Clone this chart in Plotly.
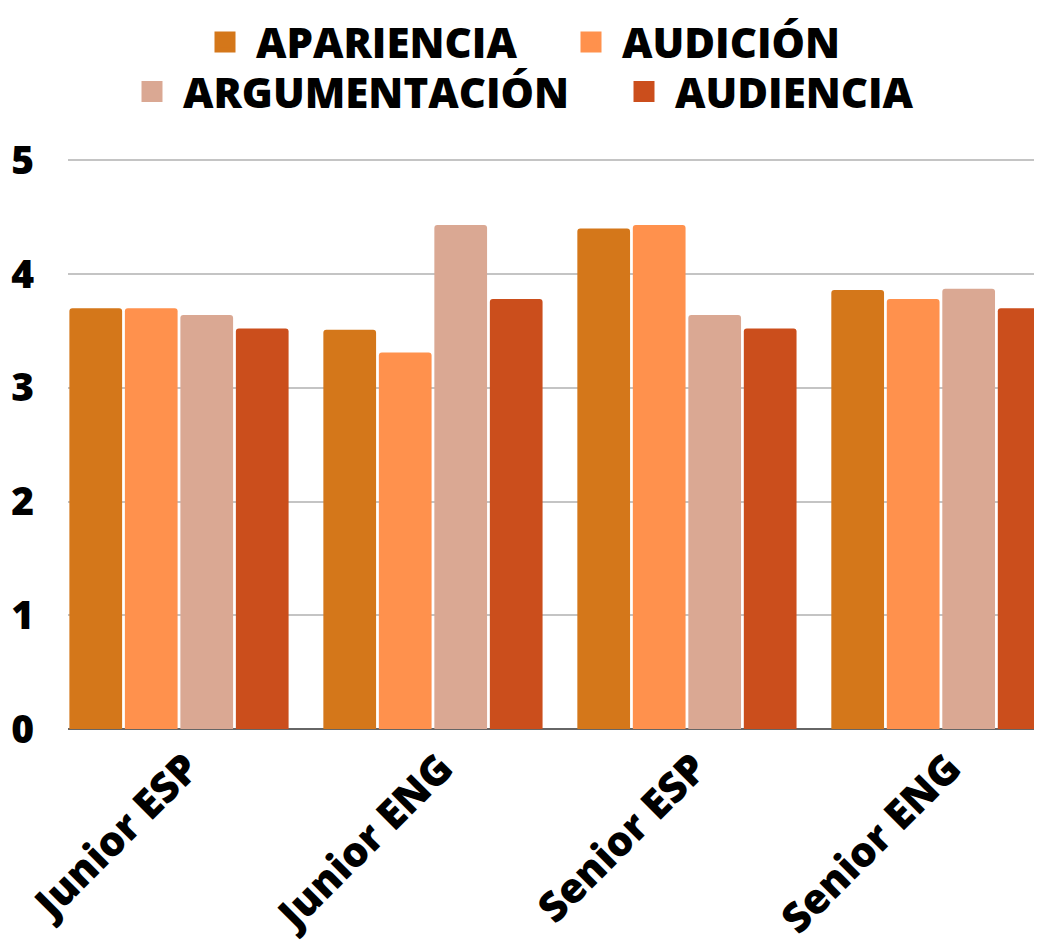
import plotly.graph_objects as go

categories = ["Junior ESP", "Junior ENG", "Senior ESP", "Senior ENG"]
series_names = ["APARIENCIA", "AUDICIÓN", "ARGUMENTACIÓN", "AUDIENCIA"]
apariencia = [3.70, 3.51, 4.40, 3.86]
audicion = [3.70, 3.31, 4.43, 3.78]
argumentacion = [3.64, 4.43, 3.64, 3.87]
audiencia = [3.52, 3.78, 3.52, 3.70]
y_ticks = [0, 1, 2, 3, 4, 5]

colors = ["#D4771A", "#FF914D", "#DAA893", "#CB4E1C"]
values = [apariencia, audicion, argumentacion, audiencia]
legend_ids = ["legend", "legend2", "legend3", "legend4"]
# legend placement: (marker centre x in page px, row)
legend_pos = [(225, 0), (591, 0), (152, 1), (644, 1)]
row_y = [1.203, 1.116]

FONT = "Open Sans"

fig = go.Figure()
for name, vals, col in zip(series_names, values, colors):
    fig.add_trace(go.Bar(x=categories, y=vals, name=name, marker_color=col,
                         marker_line_width=0, showlegend=False))
for name, col, lg in zip(series_names, colors, legend_ids):
    fig.add_trace(go.Scatter(x=[None], y=[None], mode="markers", name=" " + name,
                             marker=dict(symbol="square", size=16, color=col,
                                         line=dict(color=col, width=5)),
                             legend=lg, showlegend=True))

W, H = 1034, 941
L, T, B = 60, 145, 220
PW = W - L

def px_to_paper_x(px):
    return (px - 8 - L) / PW

legends = {}
for lg, (mx, row) in zip(legend_ids, legend_pos):
    legends[lg] = dict(orientation="h", x=px_to_paper_x(mx - 20), xanchor="left",
                       y=row_y[row], yanchor="middle",
                       font=dict(size=42, family=FONT, weight=800), itemclick=False,
                       bgcolor="rgba(0,0,0,0)")

fig.update_layout(
    width=W, height=H,
    margin=dict(l=L, r=0, t=T, b=B),
    plot_bgcolor="white", paper_bgcolor="white",
    barmode="group", bargap=0.126, bargroupgap=0.05, barcornerradius=3,
    font=dict(family=FONT, color="black", weight=800),
    **legends,
)
fig.update_xaxes(range=[-0.437, 3.398], tickangle=-45,
                 tickfont=dict(size=41, family=FONT, weight=800),
                 showgrid=False, showline=False, ticks="",
                 ticklabelstandoff=6, ticklabelshift=8)
fig.update_yaxes(range=[0, 5.02], tickvals=y_ticks,
                 tickfont=dict(size=39, family=FONT, weight=800),
                 showgrid=True, gridcolor="#C4C4C4", gridwidth=2,
                 zeroline=True, zerolinecolor="#666666", zerolinewidth=2,
                 showline=False, ticks="", ticklabelstandoff=33)

fig.write_html("out.html")
